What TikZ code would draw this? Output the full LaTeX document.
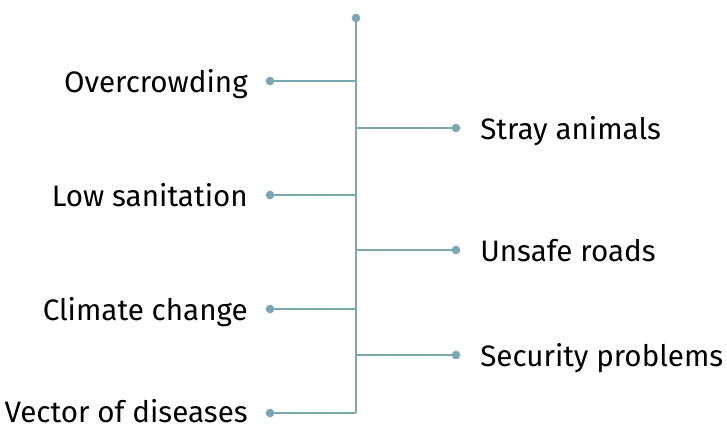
\documentclass[tikz,border=0pt]{standalone}
\usepackage{fontspec}
\setmainfont{Fira Sans}
\usetikzlibrary{positioning,calc}
\definecolor{stem}{RGB}{121,168,179}

\begin{document}
\begin{tikzpicture}[
    x=0.75pt, y=-0.75pt,
    dot/.style={circle, fill=stem, inner sep=0pt, minimum size=6.5pt},
    link/.style={draw=stem, line width=1.5pt},
    cause/.style={anchor=base east, inner sep=0pt, font=\fontsize{22.2}{25}\selectfont},
    effect/.style={anchor=base west, inner sep=0pt, font=\fontsize{22.2}{25}\selectfont}
]
    \useasboundingbox (0,0) rectangle (727,428);

    % spine
    \node[dot] (top) at (356,18) {};
    \coordinate (bottom) at (356,413);
    \draw[link] (top.center) -- (bottom);

    % left branches
    \node[dot] (d1) at (270,81) {};
    \node[dot] (d2) at (270,195) {};
    \node[dot] (d3) at (270,309) {};
    \node[dot] (d4) at (270,413) {};
    \draw[link] (d1.center) -- (d1 -| top);
    \draw[link] (d2.center) -- (d2 -| top);
    \draw[link] (d3.center) -- (d3 -| top);
    \draw[link] (d4.center) -- (bottom);

    \node[cause] (t1) at (248,92) {Overcrowding};
    \node[cause] (t2) at (248,206) {Low sanitation};
    \node[cause] (t3) at (248,320) {Climate change};
    \node[cause] (t4) at (248,422) {Vector of diseases};

    % right branches
    \node[dot] (e1) at (456,128) {};
    \node[dot] (e2) at (456,250) {};
    \node[dot] (e3) at (456,355) {};
    \draw[link] (e1 -| top) -- (e1.center);
    \draw[link] (e2 -| top) -- (e2.center);
    \draw[link] (e3 -| top) -- (e3.center);

    \node[effect] (s1) at (480,139) {Stray animals};
    \node[effect] (s2) at (480,261) {Unsafe roads};
    \node[effect] (s3) at (480,366) {Security problems};
\end{tikzpicture}
\end{document}
